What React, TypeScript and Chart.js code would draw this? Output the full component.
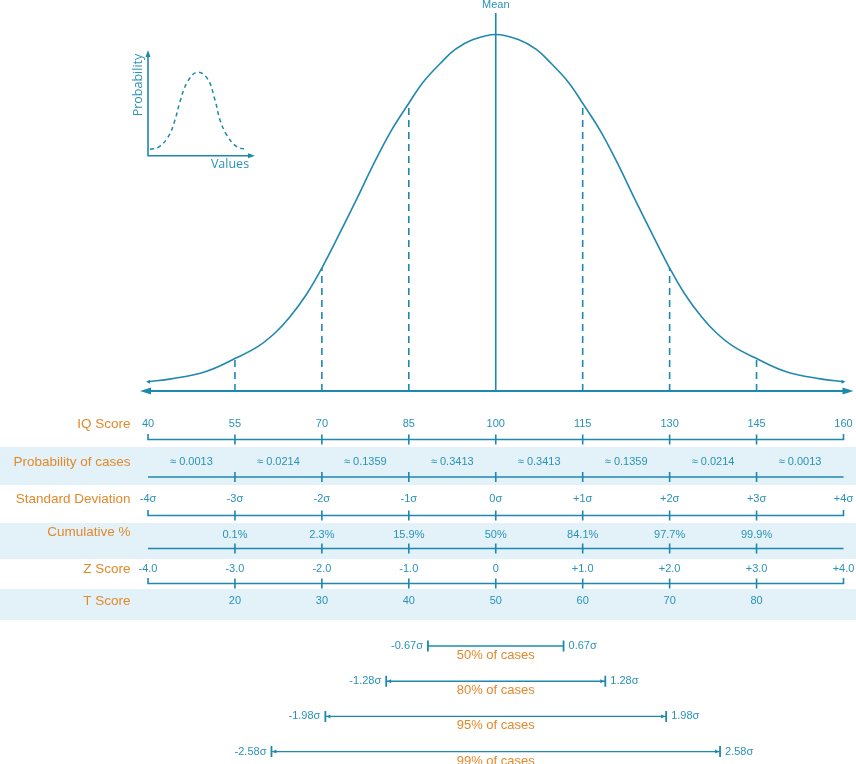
import { useEffect, useRef } from 'react'
import { Chart, registerables } from 'chart.js'

Chart.register(...registerables)

// --- data ---
const iqScores = [40, 55, 70, 85, 100, 115, 130, 145, 160]
const probabilityOfCases = ['≈ 0.0013', '≈ 0.0214', '≈ 0.1359', '≈ 0.3413', '≈ 0.3413', '≈ 0.1359', '≈ 0.0214', '≈ 0.0013']
const sdLabels = ['-4σ', '-3σ', '-2σ', '-1σ', '0σ', '+1σ', '+2σ', '+3σ', '+4σ']
const cumulativePct = ['', '0.1%', '2.3%', '15.9%', '50%', '84.1%', '97.7%', '99.9%', '']
const zScores = ['-4.0', '-3.0', '-2.0', '-1.0', '0', '+1.0', '+2.0', '+3.0', '+4.0']
const tScores = ['', '20', '30', '40', '50', '60', '70', '80', '']

// bell curve, relative height (peak = 100) by IQ score
const curveIQ = [40, 44, 50, 55, 59, 62, 64.5, 67.5, 70, 73, 76, 79, 82, 85, 87.5, 90.5, 93, 96, 100,
  104, 107, 109.5, 112.5, 115, 118, 121, 124, 127, 130, 132.5, 135.5, 138, 141, 145, 150, 156, 160]
const curveHeight = [2.6, 3.4, 5.5, 9.1, 12.5, 16.4, 20.8, 27.5, 34.5, 44.0, 53.8, 63.9, 73.1, 80.7, 86.7, 92.0, 95.8, 98.5, 100,
  98.5, 95.8, 92.0, 86.7, 80.7, 73.1, 63.9, 53.8, 44.0, 34.5, 27.5, 20.8, 16.4, 12.5, 9.1, 5.5, 3.4, 2.6]
const sigmaMarks = [55, 70, 85, 115, 130, 145]
const MEAN_IQ = 100
const MEAN_LINE_TOP = 106
const SD_IQ = 15

const intervalLabels = ['0.67σ', '1.28σ', '1.98σ', '2.58σ']
const intervalCases = ['50% of cases', '80% of cases', '95% of cases', '99% of cases']
const intervalDrawnSigma = [0.78, 1.26, 1.96, 2.58] // half-width as drawn, in σ

// inset sketch
const insetX = [0.19, 0.96, 1.9, 2.52, 2.99, 3.62, 4.55, 5.54, 6.26, 6.73, 7.36, 8.29, 9.22]
const insetY = [0.61, 0.79, 1.8, 3.38, 5.11, 6.85, 7.89, 7.32, 5.27, 3.38, 1.96, 0.85, 0.61]

const BLUE = '#1f88ae'
const BLUE_TEXT = '#2a91b8'
const ORANGE = '#e2892c'
const BAND = '#e3f2f8'
const FONT = '"Liberation Sans", Arial, Helvetica, sans-serif'

interface Row {
  label: string
  texts: string[]
  y: number            // text centre
  lineY?: number
  caps?: boolean
  between?: boolean
  band?: [number, number]
}

const rows: Row[] = [
  { label: 'IQ Score', texts: iqScores.map(String), y: 424, lineY: 439.5, caps: true },
  { label: 'Probability of cases', texts: probabilityOfCases, y: 462, lineY: 477, between: true, band: [447, 485] },
  { label: 'Standard Deviation', texts: sdLabels, y: 499, lineY: 515.5, caps: true },
  { label: 'Cumulative %', texts: cumulativePct, y: 534.5, lineY: 548.5, band: [523, 559] },
  { label: 'Z Score', texts: zScores, y: 569, lineY: 583.5, caps: true },
  { label: 'T Score', texts: tScores, y: 601, band: [589, 620] },
]

function tri(ctx: CanvasRenderingContext2D, tx: number, ty: number, dir: number, len: number, half: number, vertical = false) {
  ctx.beginPath()
  if (vertical) {
    ctx.moveTo(tx, ty)
    ctx.lineTo(tx - half, ty - dir * len)
    ctx.lineTo(tx + half, ty - dir * len)
  } else {
    ctx.moveTo(tx, ty)
    ctx.lineTo(tx - dir * len, ty - half)
    ctx.lineTo(tx - dir * len, ty + half)
  }
  ctx.closePath()
  ctx.fill()
}

const tablePlugin = {
  id: 'iqTable',
  beforeDatasetsDraw(chart: Chart) {
    const { ctx, width } = chart
    ctx.save()
    ctx.fillStyle = BAND
    rows.forEach(r => {
      if (r.band) ctx.fillRect(0, r.band[0], width, r.band[1] - r.band[0])
    })
    ctx.restore()
  },
  afterDatasetsDraw(chart: Chart) {
    const { ctx, chartArea } = chart
    const x = chart.scales.x
    const y = chart.scales.y
    const px = (v: number) => x.getPixelForValue(v)
    ctx.save()

    // baseline with arrows
    const by = y.getPixelForValue(0)
    ctx.strokeStyle = BLUE
    ctx.fillStyle = BLUE
    ctx.lineWidth = 1.8
    ctx.beginPath()
    ctx.moveTo(chartArea.left - 4, by)
    ctx.lineTo(chartArea.right + 6, by)
    ctx.stroke()
    tri(ctx, chartArea.left - 8, by, -1, 11, 3.5)
    tri(ctx, chartArea.right + 10, by, 1, 11, 3.5)

    // curve end points
    const n = curveIQ.length
    tri(ctx, px(curveIQ[0]) - 2, y.getPixelForValue(curveHeight[0]), -1, 4, 2)
    tri(ctx, px(curveIQ[n - 1]) + 2, y.getPixelForValue(curveHeight[n - 1]), 1, 4, 2)

    // Mean label
    ctx.font = `11px ${FONT}`
    ctx.fillStyle = BLUE_TEXT
    ctx.textAlign = 'center'
    ctx.textBaseline = 'middle'
    ctx.fillText('Mean', px(MEAN_IQ), 5)

    // rows
    const left = px(iqScores[0])
    const right = px(iqScores[iqScores.length - 1])
    rows.forEach(r => {
      ctx.font = `13.5px ${FONT}`
      ctx.fillStyle = ORANGE
      ctx.textAlign = 'right'
      ctx.fillText(r.label, 130.5, r.y - (r.label === 'Cumulative %' ? 2 : 0))

      ctx.font = `11px ${FONT}`
      ctx.fillStyle = BLUE_TEXT
      ctx.textAlign = 'center'
      r.texts.forEach((t, i) => {
        if (!t) return
        const cx = r.between ? (px(iqScores[i]) + px(iqScores[i + 1])) / 2 : px(iqScores[i])
        ctx.fillText(t, cx, r.y)
      })

      if (r.lineY !== undefined) {
        const ly = r.lineY
        ctx.strokeStyle = BLUE
        ctx.lineWidth = 1.6
        ctx.beginPath()
        ctx.moveTo(left, ly)
        ctx.lineTo(right, ly)
        iqScores.slice(1, -1).forEach(v => {
          ctx.moveTo(px(v), ly - 5)
          ctx.lineTo(px(v), ly + 5)
        })
        if (r.caps) {
          ctx.moveTo(left, ly - 5.5)
          ctx.lineTo(left, ly + 0.8)
          ctx.moveTo(right, ly - 5.5)
          ctx.lineTo(right, ly + 0.8)
        }
        ctx.stroke()
      }
    })

    // interval brackets
    const cx = px(MEAN_IQ)
    intervalLabels.forEach((lab, i) => {
      const ly = 646 + i * 35.2
      const hw = px(MEAN_IQ + SD_IQ * intervalDrawnSigma[i]) - cx
      const l = cx - hw
      const rr = cx + hw
      ctx.strokeStyle = BLUE
      ctx.fillStyle = BLUE
      ctx.lineWidth = 1.4
      ctx.beginPath()
      ctx.moveTo(l, ly)
      ctx.lineTo(rr, ly)
      ctx.stroke()
      ctx.lineWidth = 1.8
      ctx.beginPath()
      ctx.moveTo(l, ly - 5.5)
      ctx.lineTo(l, ly + 5.5)
      ctx.moveTo(rr, ly - 5.5)
      ctx.lineTo(rr, ly + 5.5)
      ctx.stroke()
      if (i > 0) {
        tri(ctx, l + 1, ly, -1, 4, 2)
        tri(ctx, rr - 1, ly, 1, 4, 2)
      }
      ctx.font = `11px ${FONT}`
      ctx.fillStyle = BLUE_TEXT
      ctx.textAlign = 'right'
      ctx.fillText('-' + lab, l - 5, ly)
      ctx.textAlign = 'left'
      ctx.fillText(lab, rr + 5, ly)
      ctx.font = `13px ${FONT}`
      ctx.fillStyle = ORANGE
      ctx.textAlign = 'center'
      ctx.fillText(intervalCases[i], cx, ly + 9.5)
    })
    ctx.restore()
  },
}

const insetPlugin = {
  id: 'insetAxes',
  afterDatasetsDraw(chart: Chart) {
    const { ctx, chartArea } = chart
    const { left, right, top, bottom } = chartArea
    ctx.save()
    ctx.strokeStyle = BLUE
    ctx.fillStyle = BLUE
    ctx.lineWidth = 1.6
    ctx.beginPath()
    ctx.moveTo(left, top + 5)
    ctx.lineTo(left, bottom)
    ctx.lineTo(right - 5, bottom)
    ctx.stroke()
    tri(ctx, left, top, -1, 7, 2.5, true)
    tri(ctx, right, bottom, 1, 7, 2.5)

    ctx.font = `12.5px "Open Sans", "Noto Sans", sans-serif`
    ctx.fillStyle = BLUE_TEXT
    ctx.textAlign = 'center'
    ctx.textBaseline = 'middle'
    ctx.fillText('Values', right - 25, bottom + 8.5)
    ctx.translate(left - 10, top + 35)
    ctx.rotate(-Math.PI / 2)
    ctx.fillText('Probability', 0, 0)
    ctx.restore()
  },
}

function BellChart() {
  const canvasRef = useRef<HTMLCanvasElement>(null)
  const chartRef = useRef<Chart | null>(null)

  useEffect(() => {
    if (!canvasRef.current) return
    if (chartRef.current) chartRef.current.destroy()

    const line = { borderColor: BLUE, pointRadius: 0, clip: false as const, fill: false }

    chartRef.current = new Chart(canvasRef.current, {
      type: 'line',
      data: {
        datasets: [
          {
            ...line,
            data: curveIQ.map((v, i) => ({ x: v, y: curveHeight[i] })),
            borderWidth: 1.6,
            tension: 0.4,
          },
          {
            ...line,
            data: [{ x: MEAN_IQ, y: 0 }, { x: MEAN_IQ, y: MEAN_LINE_TOP }],
            borderWidth: 1.6,
          },
          ...sigmaMarks.map(m => ({
            ...line,
            data: [{ x: m, y: 0 }, { x: m, y: curveHeight[curveIQ.indexOf(m)] }],
            borderWidth: 1.6,
            borderDash: [7, 5],
          })),
        ],
      },
      options: {
        animation: false,
        responsive: true,
        maintainAspectRatio: false,
        events: [],
        layout: { padding: { left: 148, right: 12.5, top: 34.5, bottom: 373 } },
        plugins: { legend: { display: false }, tooltip: { enabled: false } },
        scales: {
          x: { type: 'linear', min: 40, max: 160, display: false },
          y: { type: 'linear', min: 0, max: 100, display: false },
        },
      },
      plugins: [tablePlugin],
    })

    return () => { chartRef.current?.destroy() }
  }, [])

  return <canvas ref={canvasRef} />
}

function InsetChart() {
  const canvasRef = useRef<HTMLCanvasElement>(null)
  const chartRef = useRef<Chart | null>(null)

  useEffect(() => {
    if (!canvasRef.current) return
    if (chartRef.current) chartRef.current.destroy()

    chartRef.current = new Chart(canvasRef.current, {
      type: 'line',
      data: {
        datasets: [{
          data: insetX.map((v, i) => ({ x: v, y: insetY[i] })),
          borderColor: BLUE,
          borderWidth: 1.5,
          borderDash: [4, 3.5],
          pointRadius: 0,
          tension: 0.4,
          clip: false,
        }],
      },
      options: {
        animation: false,
        responsive: true,
        maintainAspectRatio: false,
        events: [],
        layout: { padding: { left: 28, right: 15, top: 10, bottom: 19.3 } },
        plugins: { legend: { display: false }, tooltip: { enabled: false } },
        scales: {
          x: { type: 'linear', min: 0, max: 10, display: false },
          y: { type: 'linear', min: 0, max: 10, display: false },
        },
      },
      plugins: [insetPlugin],
    })

    return () => { chartRef.current?.destroy() }
  }, [])

  return <canvas ref={canvasRef} />
}

export default function App() {
  return (
    <div style={{ position: 'absolute', left: 0, top: 0, width: 856, height: 764, background: '#fff' }}>
      <div style={{ position: 'absolute', inset: 0 }}>
        <BellChart />
      </div>
      <div style={{ position: 'absolute', left: 120, top: 40, width: 150, height: 135 }}>
        <InsetChart />
      </div>
    </div>
  )
}
